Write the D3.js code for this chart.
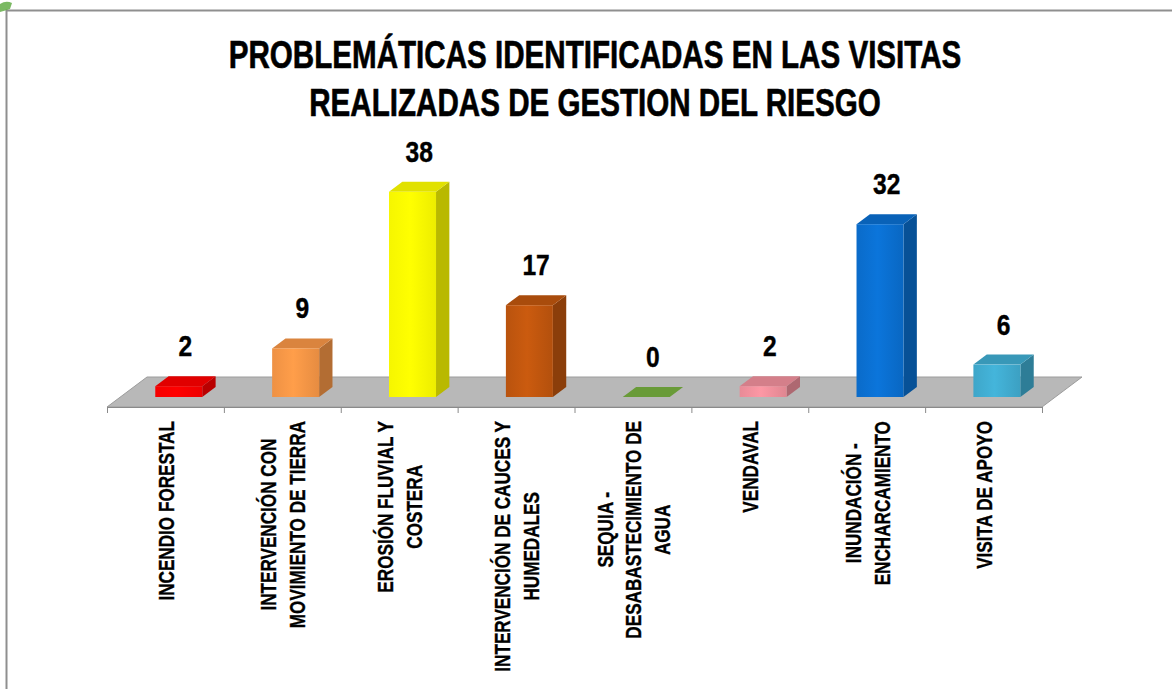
<!DOCTYPE html>
<html>
<head>
<meta charset="utf-8">
<script src="https://cdn.jsdelivr.net/npm/d3@7"></script>
<style>
  html, body { margin: 0; padding: 0; background: #fff; }
  svg { display: block; }
</style>
</head>
<body>
<div id="chart"></div>
<script>
// chart data
const titleLines = ["PROBLEMÁTICAS IDENTIFICADAS EN LAS VISITAS", "REALIZADAS DE GESTION DEL RIESGO"];
const categories = [
  ["INCENDIO FORESTAL"],
  ["INTERVENCIÓN CON", "MOVIMIENTO DE TIERRA"],
  ["EROSIÓN FLUVIAL Y", "COSTERA"],
  ["INTERVENCIÓN DE CAUCES Y", "HUMEDALES"],
  ["SEQUIA -", "DESABASTECIMIENTO DE", "AGUA"],
  ["VENDAVAL"],
  ["INUNDACIÓN -", "ENCHARCAMIENTO"],
  ["VISITA DE APOYO"]
];
const values = [2, 9, 38, 17, 0, 2, 32, 6];
const barColors = ["#ff0000", "#f79646", "#ffff00", "#c0560e", "#77b040", "#f0909c", "#0a6fd0", "#40acd0"];

const width = 1172, height = 689;

// pick a narrow font, or squeeze a regular one
const ctx = document.createElement("canvas").getContext("2d");
const measure = (font, s) => { ctx.font = font; return ctx.measureText(s).width; };
const hasNarrow = measure('bold 20px "Liberation Sans Narrow", monospace', "INCENDIO FORESTAL") !==
                  measure("bold 20px monospace", "INCENDIO FORESTAL");
const family = hasNarrow ? '"Liberation Sans Narrow", "Arial Narrow", sans-serif' : '"Liberation Sans", Arial, sans-serif';
const sx = hasNarrow ? 1 : 0.8;

const svg = d3.select("#chart").append("svg")
  .attr("width", width).attr("height", height)
  .style("font-family", family).style("font-weight", "bold");

const defs = svg.append("defs");

// frame
svg.append("path")
  .attr("d", `M6.5,${height} V10.5 H${width}`)
  .attr("fill", "none").attr("stroke", "#8f8f8f").attr("stroke-width", 2);
svg.append("path")
  .attr("d", "M0,4 Q6,0 12,3 L10,9 Q4,11 0,12 Z")
  .attr("fill", "#5aa83c").attr("opacity", 0.8);

// scales
const x = d3.scaleBand().domain(d3.range(categories.length)).range([107, 1042]);
const y = d3.scaleLinear().domain([0, 40]).range([407, 191]);

// floor depth and bar depth
const floorDx = 40, floorDy = -30;
const frontF = 1 / 3, backF = 2 / 3;
const barW = 47;

// floor
const x0 = x.range()[0], x1 = x.range()[1], yF = y(0);
svg.append("path")
  .attr("d", `M${x0},${yF} L${x1},${yF} L${x1 + floorDx},${yF + floorDy} L${x0 + floorDx},${yF + floorDy} Z`)
  .attr("fill", "#b8b8b8").attr("stroke", "#9c9c9c").attr("stroke-width", 1);

// axis ticks along floor front edge
const tickScale = d3.scaleLinear().domain([0, categories.length]).range([x0, x1]);
svg.append("g")
  .attr("transform", `translate(0,${yF})`)
  .call(d3.axisBottom(tickScale).ticks(categories.length).tickSize(6).tickFormat(""))
  .call(g => g.selectAll("path,line").attr("stroke", "#8a8a8a"));

// bars
const bars = svg.append("g");
values.forEach((v, i) => {
  const cx = x(i) + x.bandwidth() / 2;
  const fx = cx - barW / 2 + floorDx * frontF;
  const fy = floorDy * frontF;
  const bdx = floorDx * (backF - frontF), bdy = floorDy * (backF - frontF);
  const yb = y(0) + fy, yt = y(v) + fy;
  const col = d3.color(barColors[i]);

  const grad = defs.append("linearGradient").attr("id", "g" + i)
    .attr("x1", 0).attr("x2", 1).attr("y1", 0).attr("y2", 0);
  grad.append("stop").attr("offset", 0).attr("stop-color", col.darker(0.1));
  grad.append("stop").attr("offset", 0.45).attr("stop-color", col.brighter(0.15));
  grad.append("stop").attr("offset", 1).attr("stop-color", col.darker(0.2));

  const g = bars.append("g");
  // right side
  g.append("path")
    .attr("d", `M${fx + barW},${yb} L${fx + barW + bdx},${yb + bdy} L${fx + barW + bdx},${yt + bdy} L${fx + barW},${yt} Z`)
    .attr("fill", col.darker(0.9));
  // top
  g.append("path")
    .attr("d", `M${fx},${yt} L${fx + bdx},${yt + bdy} L${fx + barW + bdx},${yt + bdy} L${fx + barW},${yt} Z`)
    .attr("fill", col.darker(0.35));
  // front
  if (v > 0) {
    g.append("rect")
      .attr("x", fx).attr("y", yt).attr("width", barW).attr("height", yb - yt)
      .attr("fill", `url(#g${i})`);
  }
  // value label
  const lg = svg.append("g")
    .attr("transform", `translate(${fx + barW / 2 + bdx / 2},${yt - 30}) scale(0.82,1)`);
  lg.append("text").attr("text-anchor", "middle").attr("font-size", 30).attr("fill", "#000")
    .attr("stroke", "#000").attr("stroke-width", 0.4).text(v);
});

// category labels, rotated
const catFs = 21, lineGap = 27, labelTop = 421;
categories.forEach((lines, i) => {
  const cx = x(i) + x.bandwidth() / 2;
  const g = svg.append("g");
  const texts = lines.map((s, j) => g.append("text")
    .attr("text-anchor", "middle").attr("font-size", catFs).attr("fill", "#000")
    .attr("stroke", "#000").attr("stroke-width", 0.35)
    .attr("x", 0).attr("y", (j - (lines.length - 1) / 2) * lineGap + catFs * 0.38)
    .text(s));
  const maxLen = d3.max(texts, t => t.node().getComputedTextLength()) * sx * 1.02;
  g.attr("transform", `translate(${cx},${labelTop + maxLen / 2}) rotate(-90) scale(${sx * 1.02},1.07)`);
});

// title
titleLines.forEach((s, j) => {
  svg.append("g")
    .attr("transform", `translate(595,${68 + j * 48}) scale(${sx},1.04)`)
    .append("text").attr("text-anchor", "middle").attr("font-size", 37).attr("fill", "#000")
    .attr("stroke", "#000").attr("stroke-width", 0.6).text(s);
});
</script>
</body>
</html>
